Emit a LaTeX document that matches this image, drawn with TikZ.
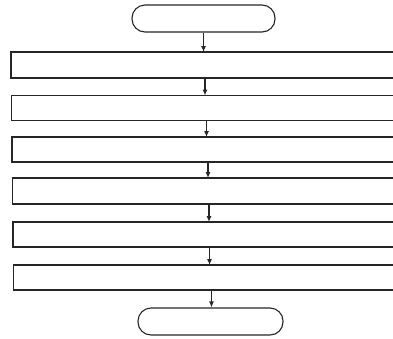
\documentclass[tikz,border=0pt]{standalone}
\usetikzlibrary{arrows.meta}
\begin{document}
\begin{tikzpicture}[x=1pt,y=-1pt,
  lw/.style={line width=1.1pt, draw=black!85},
  term/.style={lw, rectangle, rounded corners=13pt, inner sep=0pt},
  stepbox/.style={rectangle, inner sep=0pt, outer sep=0pt, anchor=west, minimum width=420pt},
  conn/.style={lw, -{Latex[length=6pt,width=5pt]}}]
\useasboundingbox (0,0) rectangle (393,338);
\node[term, minimum width=143pt, minimum height=27pt] (t) at (203.5,18.5) {};
\node[stepbox, minimum height=26pt] (b1) at (11,65) {};
\node[stepbox, minimum height=25pt] (b2) at (11.5,108) {};
\node[stepbox, minimum height=25pt] (b3) at (12,149.5) {};
\node[stepbox, minimum height=26pt] (b4) at (12.5,191) {};
\node[stepbox, minimum height=25pt] (b5) at (13,234.5) {};
\node[stepbox, minimum height=25pt] (b6) at (13.5,277.5) {};
\node[term, minimum width=145pt, minimum height=27pt] (e) at (210.5,321.5) {};
\foreach \b in {b1,b2,b3,b4,b5,b6}
  \draw[lw] (\b.north east) -- (\b.north west) -- (\b.south west) -- (\b.south east);
\draw[conn] (t.south) -- (t.south |- b1.north);
\draw[conn] ([xshift=194pt]b1.south west) -- ([xshift=194pt]b1.south west |- b2.north);
\draw[conn] ([xshift=195pt]b2.south west) -- ([xshift=195pt]b2.south west |- b3.north);
\draw[conn] ([xshift=196pt]b3.south west) -- ([xshift=196pt]b3.south west |- b4.north);
\draw[conn] ([xshift=196.5pt]b4.south west) -- ([xshift=196.5pt]b4.south west |- b5.north);
\draw[conn] ([xshift=196.5pt]b5.south west) -- ([xshift=196.5pt]b5.south west |- b6.north);
\draw[conn] ([xshift=198pt]b6.south west) -- ([xshift=198pt]b6.south west |- e.north);
\end{tikzpicture}
\end{document}
